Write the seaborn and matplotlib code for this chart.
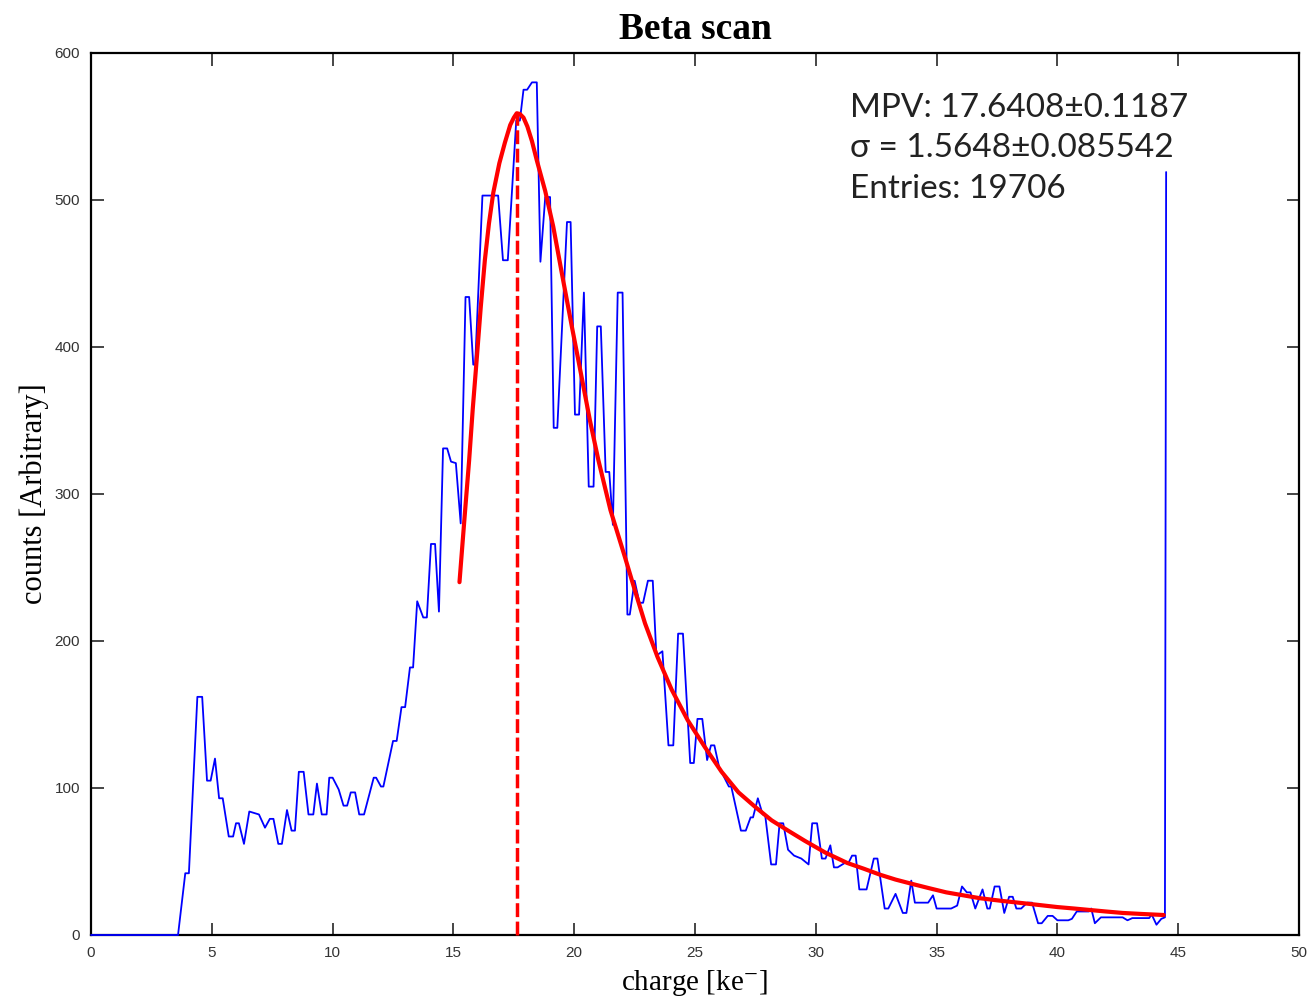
import matplotlib.pyplot as plt
import seaborn as sns
import pandas as pd

# measured spectrum (charge in ke-, counts)
charge = [0, 3.6, 3.9, 4.05, 4.4, 4.6, 4.8, 4.95, 5.13, 5.3, 5.45, 5.7, 5.88, 6.0, 6.12,
          6.33, 6.55, 6.75, 6.95, 7.2, 7.4, 7.55, 7.75, 7.9, 8.11, 8.3, 8.44, 8.6, 8.8,
          9.0, 9.2, 9.35, 9.55, 9.75, 9.86, 10.0, 10.25, 10.45, 10.6, 10.75, 10.93, 11.1,
          11.3, 11.7, 11.8, 12.0, 12.1, 12.5, 12.65, 12.85, 13.0, 13.2, 13.33, 13.5, 13.75,
          13.9, 14.07, 14.24, 14.4, 14.57, 14.74, 14.9, 15.1, 15.3, 15.5, 15.65, 15.82,
          15.9, 16.2, 16.85, 17.05, 17.25, 17.6, 17.75, 17.9, 18.05, 18.25, 18.45, 18.6,
          18.8, 19.0, 19.15, 19.3, 19.7, 19.85, 20.03, 20.2, 20.4, 20.6, 20.8, 20.95, 21.1,
          21.3, 21.45, 21.6, 21.8, 22.0, 22.2, 22.3, 22.5, 22.7, 22.85, 23.05, 23.25, 23.4,
          23.65, 23.9, 24.1, 24.3, 24.5, 24.8, 24.95, 25.1, 25.3, 25.5, 25.66, 25.8, 26.0,
          26.4, 26.5, 26.9, 27.1, 27.3, 27.4, 27.6, 27.8, 27.9, 28.15, 28.35, 28.5, 28.65,
          28.85, 29.1, 29.4, 29.7, 29.85, 30.05, 30.25, 30.4, 30.6, 30.75, 30.9, 31.2, 31.35,
          31.5, 31.65, 31.8, 32.1, 32.4, 32.55, 32.85, 33.0, 33.3, 33.6, 33.75, 33.95, 34.1,
          34.65, 34.85, 35.0, 35.6, 35.85, 36.05, 36.25, 36.4, 36.6, 36.9, 37.1, 37.2, 37.4,
          37.6, 37.8, 38.0, 38.15, 38.3, 38.5, 38.75, 38.95, 39.2, 39.35, 39.6, 39.8, 40.0,
          40.45, 40.6, 40.8, 41.3, 41.4, 41.55, 41.8, 42.0, 42.3, 42.7, 42.9, 43.1, 43.8,
          43.9, 44.1, 44.3, 44.45, 44.5]
counts = [0, 0, 42, 42, 162, 162, 105, 105, 120, 93, 93, 67, 67, 76, 76,
          62, 84, 83, 82, 73, 79, 79, 62, 62, 85, 71, 71, 111, 111,
          82, 82, 103, 82, 82, 107, 107, 99, 88, 88, 97, 97, 82,
          82, 107, 107, 101, 101, 132, 132, 155, 155, 182, 182, 227, 216,
          216, 266, 266, 220, 331, 331, 322, 321, 280, 434, 434, 388,
          388, 503, 503, 459, 459, 554, 554, 575, 575, 580, 580, 458,
          502, 502, 345, 345, 485, 485, 354, 354, 437, 305, 305, 414, 414,
          315, 315, 279, 437, 437, 218, 218, 241, 226, 226, 241, 241, 190,
          193, 129, 129, 205, 205, 117, 117, 147, 147, 119, 129, 129, 114,
          101, 101, 71, 71, 80, 80, 93, 82, 82, 48, 48, 76, 76,
          58, 54, 52, 48, 76, 76, 52, 52, 61, 46, 46, 49, 49,
          54, 54, 31, 31, 52, 52, 18, 18, 28, 15, 15, 37, 22,
          22, 27, 18, 18, 20, 33, 29, 29, 18, 31, 18, 18, 33,
          33, 15, 26, 26, 18, 18, 22, 22, 8, 8, 13, 13, 10,
          10, 11, 16, 16, 18, 8, 12, 12, 12, 12, 10, 11.5, 11.5,
          14, 7, 11, 12, 519]

# Landau fit curve
fit_x = [15.25, 15.45, 15.65, 15.8, 15.96, 16.13, 16.3, 16.47, 16.65, 16.9, 17.13, 17.35,
         17.5, 17.62, 17.75, 17.9, 18.06, 18.25, 18.45, 18.8, 19.13, 19.5, 19.9, 20.3,
         20.65, 21.0, 21.5, 22.1, 22.5, 22.93, 23.45, 24.03, 24.7, 25.4, 26.1, 26.8,
         27.5, 28.17, 28.85, 29.55, 30.4, 31.3, 32.0, 32.66, 33.3, 34.0, 34.7, 35.4,
         36.1, 36.8, 37.7, 38.6, 39.3, 40.0, 40.7, 41.35, 42.0, 42.7, 43.5, 44.4]
fit_y = [240, 282, 323, 358, 391, 427, 459, 484, 505, 525, 539, 551,
         556, 559, 558.5, 556, 550, 540, 527, 506, 482, 449, 414, 380,
         350, 323, 289, 257, 235, 212, 189, 167, 146, 128, 111, 97,
         87, 78, 71, 64, 56, 49, 45, 41, 37.7, 34.7, 31.8, 29,
         27, 25, 23.2, 21.6, 20.3, 19, 18, 17, 16, 15, 14.3, 13.6]

mpv = 17.6408
mpv_peak = 559
stats_text = "MPV: 17.6408\u00b10.1187\n\u03c3 = 1.5648\u00b10.085542\nEntries: 19706"

sns.set_theme(style="ticks")
plt.rcParams["mathtext.fontset"] = "stix"

fig = plt.figure(figsize=(13.12, 10.07), dpi=100)
ax = fig.add_axes([0.0694, 0.0715, 0.9207, 0.8759])

data = pd.DataFrame({"charge": charge, "counts": counts})
fit = pd.DataFrame({"charge": fit_x, "counts": fit_y})
sns.lineplot(data=data, x="charge", y="counts", ax=ax, color="#0000FF",
             linewidth=1.3, sort=False, estimator=None, zorder=4, clip_on=False)
sns.lineplot(data=fit, x="charge", y="counts", ax=ax, color="#FF0000",
             linewidth=3, sort=False, estimator=None, zorder=5)
ax.plot([mpv, mpv], [0, mpv_peak], color="#FF0000", linewidth=2.5,
        linestyle=(0, (4, 1.3)), zorder=5, clip_on=False)

ax.set_xlim(0, 50)
ax.set_ylim(0, 600)
ax.set_xticks(range(0, 51, 5))
ax.set_yticks(range(0, 601, 100))
ax.tick_params(direction="in", length=9, width=1.2, top=True, right=True,
               labelsize=11, labelcolor="#333333", pad=8)
for lab in ax.get_xticklabels() + ax.get_yticklabels():
    lab.set_family("Liberation Sans")
for s in ax.spines.values():
    s.set_linewidth(1.6)
    s.set_color("black")

ax.set_xlabel("charge [ke$^{-}$]", family="Liberation Serif", fontsize=21,
              labelpad=6, color="black")
ax.set_ylabel("counts [Arbitrary]", family="Liberation Serif", fontsize=22,
              labelpad=4, color="black")
ax.set_title("Beta scan", family="Liberation Serif", fontweight="bold", fontsize=27,
             pad=10, color="black")

ax.text(0.628, 0.955, stats_text, transform=ax.transAxes, va="top", ha="left",
        fontsize=24, linespacing=1.45, family=["Lato", "DejaVu Sans"], color="#222222")

fig.savefig("out.png", dpi=100)
